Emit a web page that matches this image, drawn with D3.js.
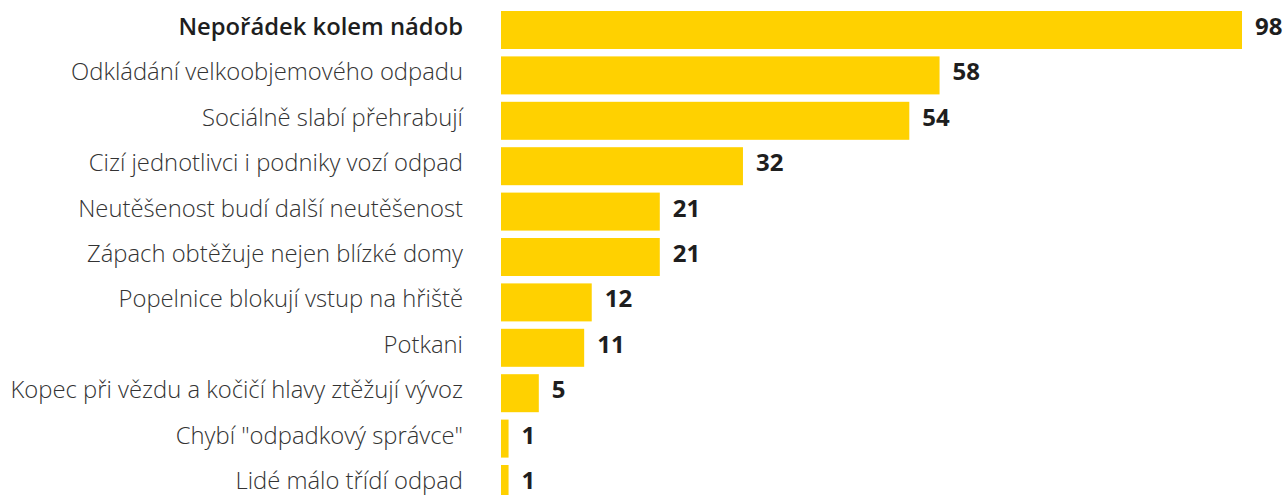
<!DOCTYPE html>
<html>
<head>
<meta charset="utf-8">
<script src="https://cdn.jsdelivr.net/npm/d3@7"></script>
<style>
  body { margin: 0; background: #fff; }
  svg { display: block; }
</style>
</head>
<body>
<div id="chart"></div>
<script>
// categories and values
const categories = [
  "Nepořádek kolem nádob",
  "Odkládání velkoobjemového odpadu",
  "Sociálně slabí přehrabují",
  "Cizí jednotlivci i podniky vozí odpad",
  "Neutěšenost budí další neutěšenost",
  "Zápach obtěžuje nejen blízké domy",
  "Popelnice blokují vstup na hřiště",
  "Potkani",
  "Kopec při vězdu a kočičí hlavy ztěžují vývoz",
  "Chybí \"odpadkový správce\"",
  "Lidé málo třídí odpad"
];
const values = [98, 58, 54, 32, 21, 21, 12, 11, 5, 1, 1];

const width = 1288, height = 495;
const data = categories.map((c, i) => ({ name: c, value: values[i] }));

const svg = d3.select("#chart").append("svg")
  .attr("width", width)
  .attr("height", height);

const x = d3.scaleLinear()
  .domain([0, 98])
  .range([501, 1242]);

const y = d3.scaleBand()
  .domain(categories)
  .range([11, 503])
  .paddingInner(0.163)
  .paddingOuter(0);

svg.selectAll("rect.bar")
  .data(data)
  .enter().append("rect")
  .attr("class", "bar")
  .attr("x", x(0))
  .attr("y", d => y(d.name))
  .attr("width", d => x(d.value) - x(0))
  .attr("height", y.bandwidth())
  .attr("fill", "#ffd100");

// category labels
svg.selectAll("text.label")
  .data(data)
  .enter().append("text")
  .attr("class", "label")
  .attr("x", 463)
  .attr("y", d => y(d.name) + y.bandwidth() / 2)
  .attr("dy", "0.21em")
  .attr("text-anchor", "end")
  .style("font-family", "'Open Sans', sans-serif")
  .style("font-size", "23.8px")
  .style("font-weight", (d, i) => i === 0 ? 600 : 300)
  .style("fill", (d, i) => i === 0 ? "#1e1e1e" : "#333")
  .text(d => d.name);

// value labels
svg.selectAll("text.value")
  .data(data)
  .enter().append("text")
  .attr("class", "value")
  .attr("x", d => x(d.value) + 13)
  .attr("y", d => y(d.name) + y.bandwidth() / 2)
  .attr("dy", "0.21em")
  .style("font-family", "'Open Sans', sans-serif")
  .style("font-size", "24px")
  .style("font-weight", 700)
  .style("fill", "#1e1e1e")
  .text(d => d.value);
</script>
</body>
</html>
